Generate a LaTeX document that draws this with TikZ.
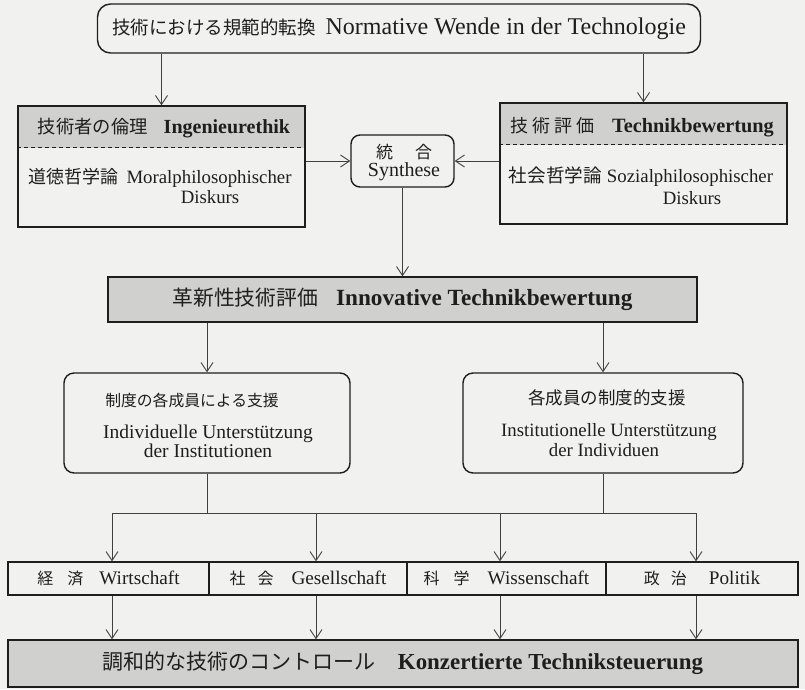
\documentclass[tikz,border=0pt]{standalone}
\usepackage{fontspec}
\setmainfont{Liberation Serif}
\newfontfamily\cjk{Noto Sans CJK JP}
\usetikzlibrary{arrows.meta}
\newcommand{\mysz}[1]{\fontsize{#1pt}{#1pt}\selectfont}
\definecolor{paper}{RGB}{241,241,239}
\definecolor{hdrgray}{RGB}{208,208,206}
\definecolor{ink}{RGB}{30,30,30}
\begin{document}
\begin{tikzpicture}[x=1pt,y=-1pt,
  frame/.style={draw=ink, line width=1.4pt, inner sep=0pt},
  hdr/.style={path picture={\fill[hdrgray] (path picture bounding box.north west) rectangle ([yshift=-42pt]path picture bounding box.north east);}},
  txt/.style={inner sep=0pt, text=ink},
  conn/.style={draw=black!75, line width=0.9pt},
  arr/.style={conn, -{Straight Barb[length=9pt,width=12pt,line width=0.9pt]}}]
\fill[paper] (0,0) rectangle (805,689);
\useasboundingbox (0,0) rectangle (805,689);

% top
\node[frame, rounded corners=13pt, minimum width=603pt, minimum height=49pt, text=ink] (top) at (399,28.5)
  {{\mysz{18.5}\cjk 技術における規範的転換}\hspace{10pt}{\mysz{24}Normative Wende in der Technologie}};

% left box
\node[frame, hdr, minimum width=287pt, minimum height=121pt] (lbox) at (161.5,166.5) {};
\draw[ink, line width=0.8pt, dash pattern=on 4pt off 3pt] ([yshift=-42pt]lbox.north west) -- ([yshift=-42pt]lbox.north east);
\node[txt] (lhead) at (164,128) {{\mysz{18.3}\cjk 技術者の倫理}\hspace{16pt}{\mysz{20}\bfseries Ingenieurethik}};
\node[txt] (lbody) at (160,178) {{\mysz{18}\cjk 道徳哲学論}\hspace{8pt}{\mysz{18.8}Moralphilosophischer}};
\node[txt] (ldisk) at (210,197) {\mysz{18.8}Diskurs};

% right box
\node[frame, hdr, minimum width=287pt, minimum height=121pt] (rbox) at (643.5,163.5) {};
\draw[ink, line width=0.8pt, dash pattern=on 4pt off 3pt] ([yshift=-42pt]rbox.north west) -- ([yshift=-42pt]rbox.north east);
\node[txt] (rhead) at (642,127) {{\mysz{18}\cjk 技\hspace{4pt}術\hspace{4pt}評\hspace{4pt}価}\hspace{18pt}{\mysz{20.3}\bfseries Technikbewertung}};
\node[txt] (rbody) at (641,177) {{\mysz{18.6}\cjk 社会哲学論}\hspace{5pt}{\mysz{18.8}Sozialphilosophischer}};
\node[txt] (rdisk) at (692,198) {\mysz{18.8}Diskurs};

% synthese
\node[frame, rounded corners=9pt, minimum width=103pt, minimum height=52pt] (syn) at (402.5,161) {};
\node[txt] (syn1) at (404,152) {\mysz{17}\cjk 統\hspace{22pt}合};
\node[txt] (syn2) at (404,172) {\mysz{20}Synthese};

% band
\node[frame, fill=hdrgray, minimum width=589pt, minimum height=45pt, text=ink] (band) at (402.5,299.5)
  {{\mysz{20.8}\cjk 革新性技術評価}\hspace{18pt}{\mysz{23.2}\bfseries Innovative Technikbewertung}};

% two support boxes
\node[frame, rounded corners=10pt, minimum width=286pt, minimum height=100pt] (ibox) at (207,423) {};
\node[txt] (i1) at (192,400) {\mysz{15.8}\cjk 制度の各成員による支援};
\node[txt] (i2) at (208,434) {\mysz{19.5}Individuelle Unterstützung};
\node[txt] (i3) at (208,451) {\mysz{19.5}der Institutionen};

\node[frame, rounded corners=10pt, minimum width=280pt, minimum height=100pt] (jbox) at (603,423) {};
\node[txt] (j1) at (607,398) {\mysz{17.5}\cjk 各成員の制度的支援};
\node[txt] (j2) at (609,432) {\mysz{18.8}Institutionelle Unterstützung};
\node[txt] (j3) at (604,450) {\mysz{18.8}der Individuen};

% row
\node[frame, minimum width=201pt, minimum height=33pt, text=ink] (c1) at (108.5,578.5)
  {{\mysz{16}\cjk 経\hspace{14pt}済}\hspace{16pt}{\mysz{19.2}Wirtschaft}};
\node[frame, minimum width=198pt, minimum height=33pt, text=ink] (c2) at (308,578.5)
  {{\mysz{16}\cjk 社\hspace{12pt}会}\hspace{18pt}{\mysz{19.2}Gesellschaft}};
\node[frame, minimum width=199pt, minimum height=33pt, text=ink] (c3) at (506.5,578.5)
  {{\mysz{16}\cjk 科\hspace{14pt}学}\hspace{18pt}{\mysz{19.2}Wissenschaft}};
\node[frame, minimum width=192pt, minimum height=33pt, text=ink] (c4) at (702,578.5)
  {{\mysz{16}\cjk 政\hspace{11pt}治}\hspace{22pt}{\mysz{19.2}Politik}};

% bottom
\node[frame, fill=hdrgray, minimum width=790pt, minimum height=47pt, text=ink] (bot) at (403,663.5)
  {{\mysz{21}\cjk 調和的な技術のコントロール}\hspace{22pt}{\mysz{22.9}\bfseries Konzertierte Techniksteuerung}};

% connectors
\draw[arr] (top.south -| lbox.north) -- (lbox.north);
\draw[arr] (top.south -| rbox.north) -- (rbox.north);
\draw[arr] (lbox.east |- syn.west) -- (syn.west);
\draw[arr] (rbox.west |- syn.east) -- (syn.east);
\draw[arr] (syn.south) -- (syn.south |- band.north);
\draw[arr] (ibox.north |- band.south) -- (ibox.north);
\draw[arr] (jbox.north |- band.south) -- (jbox.north);

\coordinate (bl) at (207,513);
\coordinate (br) at (603,513);
\coordinate (b1) at (112,513);
\coordinate (b2) at (316,513);
\coordinate (b3) at (500,513);
\coordinate (b4) at (696,513);
\draw[conn] (ibox.south) -- (bl);
\draw[conn] (jbox.south) -- (br);
\draw[conn] (b1) -- (b4);
\draw[arr] (b1) -- (b1 |- c1.north);
\draw[arr] (b2) -- (b2 |- c2.north);
\draw[arr] (b3) -- (b3 |- c3.north);
\draw[arr] (b4) -- (b4 |- c4.north);
\draw[arr] (b1 |- c1.south) -- (b1 |- bot.north);
\draw[arr] (b2 |- c2.south) -- (b2 |- bot.north);
\draw[arr] (b3 |- c3.south) -- (b3 |- bot.north);
\draw[arr] (b4 |- c4.south) -- (b4 |- bot.north);
\end{tikzpicture}
\end{document}
